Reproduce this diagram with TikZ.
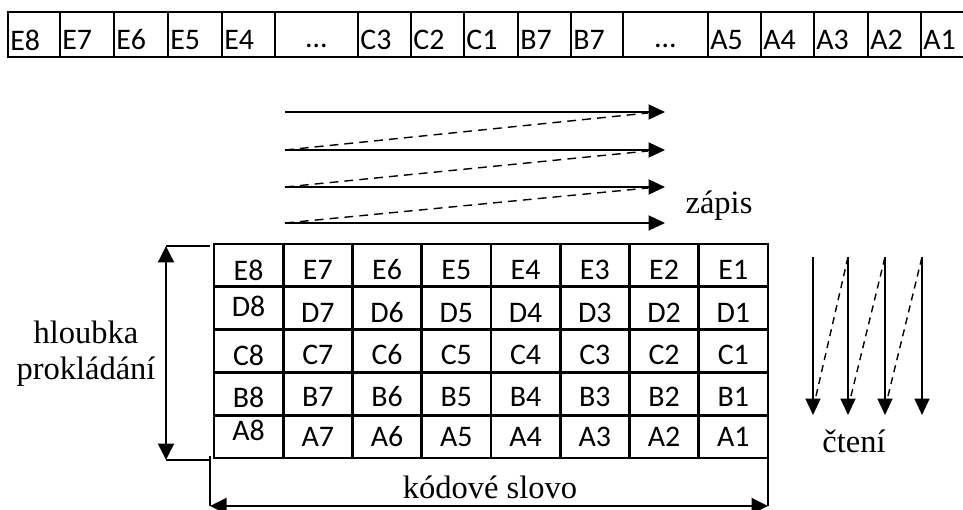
\documentclass[tikz,border=0pt]{standalone}
\usepackage{fontspec}
\setmainfont{Liberation Serif}
\newfontfamily\cellfont{Carlito}
\usepackage{tikz}
\usetikzlibrary{arrows.meta, positioning, calc}

\begin{document}
\begin{tikzpicture}[x=0.02cm, y=-0.02cm,
  cell/.style={font=\cellfont\fontsize{17}{20}\selectfont, inner sep=0pt},
  lbl/.style={font=\fontsize{18.5}{20.5}\selectfont, align=center, inner sep=0pt},
  frame/.style={line width=1.6pt},
  arr/.style={-{Triangle[length=0.33cm, width=0.3cm]}, line width=1.1pt},
  dim/.style={{Triangle[length=0.33cm, width=0.32cm]}-{Triangle[length=0.33cm, width=0.32cm]}, line width=1.1pt},
  ext/.style={line width=0.6pt},
  back/.style={line width=0.8pt, dash pattern=on 5pt off 3.5pt}]
  \useasboundingbox (0,0) rectangle (963,510);

  % interleaved output stream
  \draw[frame] (6.5,12) -- (963,12) (6.5,57) -- (963,57);
  \foreach \x in {8,60,114,168,222,275,358,411,464,518,571,623,708,761,814,868,921}
    \draw[frame] (\x,12) -- (\x,57);
  \foreach \x/\t [count=\i] in {8/E8,60/E7,114/E6,168/E5,222/E4,358/C3,411/C2,464/C1,
                                518/B7,571/B7,708/A5,761/A4,814/A3,868/A2,921/A1}
    \node[cell, anchor=west] (s\i) at (\x+2,40) {\t};
  \node[cell, anchor=base] (sdots1) at (316.5,48) {…};
  \node[cell, anchor=base] (sdots2) at (665.5,48) {…};

  % writing order (rows)
  \foreach \y [count=\i] in {112,150,187,223} {
    \coordinate (ws\i) at (285,\y);
    \coordinate (we\i) at (665,\y);
    \coordinate (wb\i) at (648,\y+1);
    \draw[arr] (ws\i) -- (we\i);
  }
  \foreach \i/\k in {1/2,2/3,3/4}
    \draw[back] (ws\k) -- (wb\i);
  \node[lbl, anchor=base] (write) at (719,213) {zápis};

  % interleaver matrix
  \coordinate (nw) at (214,244);
  \coordinate (se) at (768,458);
  \draw[frame] (nw) rectangle (se);
  \foreach \c in {1,...,7}
    \draw[frame] (214+69.25*\c,244) -- (214+69.25*\c,458);
  \foreach \r in {1,...,4}
    \draw[frame] (214,244+42.8*\r) -- (768,244+42.8*\r);
  \foreach \r/\y/\z in {E/270/270, D/313/306, C/355/355, B/397/397, A/437/430} {
    \node[cell] (\r8) at (248.6,\z) {\r8};
    \foreach \n in {7,...,1}
      \node[cell] (\r\n) at (248.6+69.25*8-69.25*\n,\y) {\r\n};
  }

  % reading order (columns)
  \foreach \x [count=\i] in {813,848,885,922} {
    \coordinate (rs\i) at (\x,257);
    \coordinate (re\i) at (\x,415);
    \coordinate (rb\i) at (\x+3,396);
    \draw[arr] (rs\i) -- (re\i);
  }
  \foreach \i/\k in {1/2,2/3,3/4}
    \draw[back, dash pattern=on 4pt off 3pt] (rb\i) -- (rs\k);
  \node[lbl, anchor=base] (read) at (854,452) {čtení};

  % dimensions
  \coordinate (dtop) at (166,246);
  \coordinate (dbot) at (166,460);
  \coordinate (wl) at (210,506);
  \coordinate (wr) at (768,506);
  \draw[dim] (dtop) -- (dbot);
  \draw[ext] (dtop) -- (210,246) (dbot) -- (210,460);
  \draw[ext] (210,456) -- (wl) (se) -- (wr);
  \draw[dim] (wl) -- (wr);
  \node[lbl] (depth) at (86,354) {hloubka\\prokládání};
  \node[lbl, anchor=base] (word) at (490,498) {kódové slovo};
\end{tikzpicture}
\end{document}
